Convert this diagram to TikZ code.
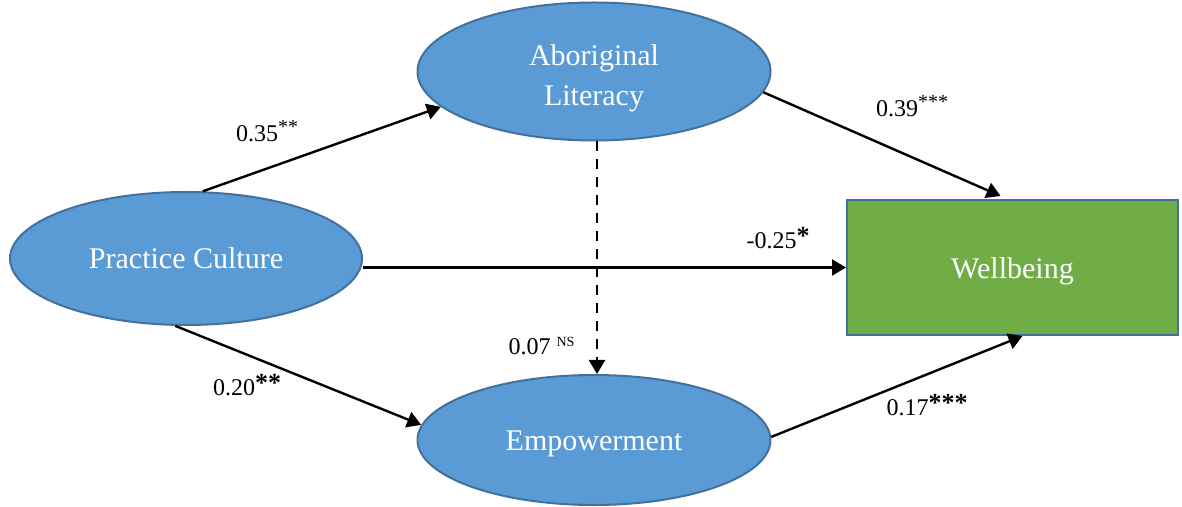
\documentclass[tikz,border=0pt]{standalone}
\usepackage{fontspec}
\setmainfont{Liberation Serif}
\usetikzlibrary{shapes.geometric,arrows.meta}
\definecolor{ellfill}{HTML}{5B9BD5}
\definecolor{elldraw}{HTML}{41719C}
\definecolor{boxfill}{HTML}{70AD47}
\tikzset{
  latent/.style={ellipse, fill=ellfill, draw=elldraw, line width=1pt, inner sep=0pt,
    text=white, font=\fontsize{15}{20}\selectfont, align=center},
  outcome/.style={rectangle, fill=boxfill, draw=elldraw, line width=1pt, inner sep=0pt,
    text=white, font=\fontsize{15}{20}\selectfont},
  path/.style={line width=1.2pt, -{Triangle[length=7pt,width=8pt]}},
  coef/.style={font=\fontsize{12}{14}\selectfont, inner sep=0pt}
}
\newcommand{\bstars}[1]{\raisebox{0.35ex}{\bfseries\fontsize{13}{14}\selectfont #1}}
\newcommand{\sstars}[1]{\raisebox{0.75ex}{\fontsize{10}{11}\selectfont #1}}
\newcommand{\lowertext}[2]{\raisebox{-#1}[\height][\depth]{#2}}
\begin{document}
\begin{tikzpicture}[x=0.5pt,y=-0.5pt]
\useasboundingbox (0,0) rectangle (1182,507);
\node[latent, minimum width=176pt, minimum height=66.5pt] (pc) at (186,258.5) {Practice Culture};
\node[latent, minimum width=176.5pt, minimum height=69pt] (al) at (594,71.5)
  {\lowertext{3pt}{\begin{tabular}{@{}c@{}}Aboriginal\\Literacy\end{tabular}}};
\node[latent, minimum width=176.5pt, minimum height=65pt] (emp) at (594,440) {\lowertext{2pt}{Empowerment}};
\node[outcome, minimum width=165.5pt, minimum height=67.5pt] (wb) at (1012.5,267.5) {\lowertext{2pt}{Wellbeing}};

\draw[path] (pc.76) -- (al.193);
\draw[path] (pc.261) -- (emp.175);
\draw[path] (pc.east |- wb.west) -- (wb.west);
\draw[path] (al.353) -- ([xshift=-6pt,yshift=1.5pt]wb.north);
\draw[path] (emp.1) -- ([xshift=5pt]wb.south);
\draw[path, dashed, dash pattern=on 5pt off 4pt] ([xshift=1.5pt]al.south) -- ([xshift=1.5pt]emp.north);

\node[coef] (l1) at (267,131) {0.35\sstars{**}};
\node[coef] (l2) at (912,106) {0.39\sstars{***}};
\node[coef] (l3) at (778,238) {-0.25\bstars{*}};
\node[coef] (l4) at (542,346) {0.07 \textsuperscript{\fontsize{7}{8}\selectfont NS}};
\node[coef] (l5) at (247,385) {0.20\bstars{**}};
\node[coef] (l6) at (927,405) {0.17\bstars{***}};
\end{tikzpicture}
\end{document}
